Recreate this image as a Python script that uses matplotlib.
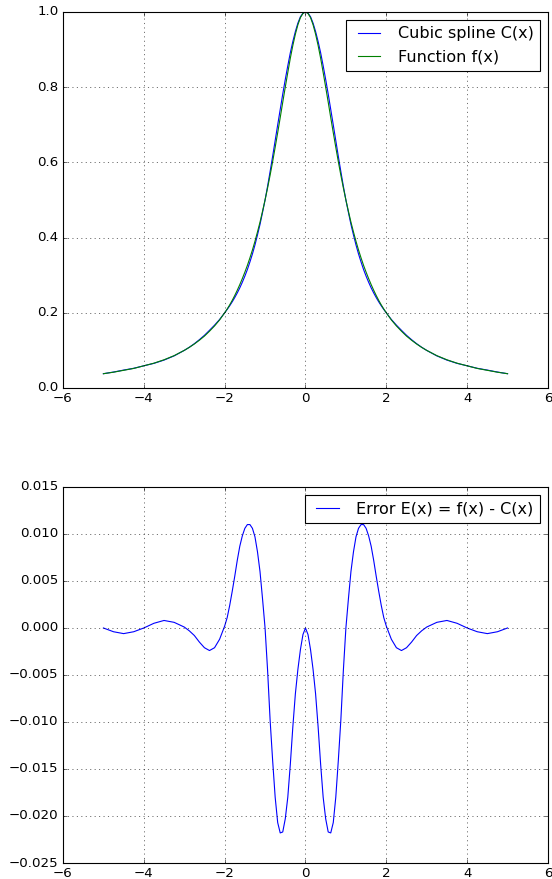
import matplotlib
matplotlib.use("Agg")
import matplotlib.pyplot as plt

# sample points (x on [-5, 5])
x = [-5, -4.75, -4.5, -4.25, -4, -3.75, -3.5, -3.25, -3,
     -2.875, -2.75, -2.625, -2.5, -2.375, -2.25, -2.125,
     -2, -1.9375, -1.875, -1.8125, -1.75, -1.6875, -1.625, -1.5625,
     -1.5, -1.4375, -1.375, -1.3125, -1.25, -1.1875, -1.125, -1.0625,
     -1, -0.9375, -0.875, -0.8125, -0.75, -0.6875, -0.625, -0.5625,
     -0.5, -0.4375, -0.375, -0.3125, -0.25, -0.1875, -0.125, -0.0625, 0,
     0.0625, 0.125, 0.1875, 0.25, 0.3125, 0.375, 0.4375, 0.5,
     0.5625, 0.625, 0.6875, 0.75, 0.8125, 0.875, 0.9375, 1,
     1.0625, 1.125, 1.1875, 1.25, 1.3125, 1.375, 1.4375, 1.5,
     1.5625, 1.625, 1.6875, 1.75, 1.8125, 1.875, 1.9375, 2,
     2.125, 2.25, 2.375, 2.5, 2.625, 2.75, 2.875, 3,
     3.25, 3.5, 3.75, 4, 4.25, 4.5, 4.75, 5]

# function f(x)
f_vals = [0.038, 0.042, 0.047, 0.052, 0.059, 0.066, 0.075, 0.086, 0.100,
          0.108, 0.117, 0.127, 0.138, 0.151, 0.165, 0.181,
          0.200, 0.210, 0.221, 0.233, 0.246, 0.260, 0.275, 0.291,
          0.308, 0.326, 0.346, 0.367, 0.390, 0.415, 0.441, 0.470,
          0.500, 0.532, 0.566, 0.602, 0.640, 0.679, 0.719, 0.760,
          0.800, 0.839, 0.877, 0.911, 0.941, 0.966, 0.985, 0.996, 1.000,
          0.996, 0.985, 0.966, 0.941, 0.911, 0.877, 0.839, 0.800,
          0.760, 0.719, 0.679, 0.640, 0.602, 0.566, 0.532, 0.500,
          0.470, 0.441, 0.415, 0.390, 0.367, 0.346, 0.326, 0.308,
          0.291, 0.275, 0.260, 0.246, 0.233, 0.221, 0.210, 0.200,
          0.181, 0.165, 0.151, 0.138, 0.127, 0.117, 0.108, 0.100,
          0.086, 0.075, 0.066, 0.059, 0.052, 0.047, 0.042, 0.038]

# cubic spline C(x)
c_vals = [0.0380, 0.0424, 0.0476, 0.0524, 0.0590, 0.0655, 0.0742, 0.0854, 0.0999,
          0.1083, 0.1178, 0.1285, 0.1401, 0.1534, 0.1671, 0.1822,
          0.1998, 0.2089, 0.2186, 0.2291, 0.2405, 0.2528, 0.2663, 0.2812,
          0.2974, 0.3150, 0.3350, 0.3564, 0.3803, 0.4069, 0.4350, 0.4669,
          0.5000, 0.5365, 0.5758, 0.6161, 0.6580, 0.6997, 0.7408, 0.7817,
          0.8203, 0.8570, 0.8915, 0.9215, 0.9480, 0.9704, 0.9873, 0.9967, 1.0000,
          0.9967, 0.9873, 0.9704, 0.9480, 0.9215, 0.8915, 0.8570, 0.8203,
          0.7817, 0.7408, 0.6997, 0.6580, 0.6161, 0.5758, 0.5365, 0.5000,
          0.4669, 0.4350, 0.4069, 0.3803, 0.3564, 0.3350, 0.3150, 0.2974,
          0.2812, 0.2663, 0.2528, 0.2405, 0.2291, 0.2186, 0.2089, 0.1998,
          0.1822, 0.1671, 0.1534, 0.1401, 0.1285, 0.1178, 0.1083, 0.0999,
          0.0854, 0.0742, 0.0655, 0.0590, 0.0524, 0.0476, 0.0424, 0.0380]

# error E(x) = f(x) - C(x)
err_vals = [0.0, -0.0004, -0.0006, -0.0004, 0.0, 0.0005, 0.0008, 0.0006, 0.0001,
            -0.0003, -0.0008, -0.0015, -0.0021, -0.0024, -0.0021, -0.0012,
            0.0002, 0.0011, 0.0024, 0.0039, 0.0055, 0.0072, 0.0087, 0.0098,
            0.0106, 0.0110, 0.0110, 0.0106, 0.0097, 0.0081, 0.0060, 0.0031,
            0.0, -0.0045, -0.0098, -0.0141, -0.0180, -0.0207, -0.0218, -0.0217,
            -0.0203, -0.0180, -0.0145, -0.0105, -0.0070, -0.0044, -0.0023, -0.0007, 0.0,
            -0.0007, -0.0023, -0.0044, -0.0070, -0.0105, -0.0145, -0.0180, -0.0203,
            -0.0217, -0.0218, -0.0207, -0.0180, -0.0141, -0.0098, -0.0045, 0.0,
            0.0031, 0.0060, 0.0081, 0.0097, 0.0106, 0.0110, 0.0110, 0.0106,
            0.0098, 0.0087, 0.0072, 0.0055, 0.0039, 0.0024, 0.0011, 0.0002,
            -0.0012, -0.0021, -0.0024, -0.0021, -0.0015, -0.0008, -0.0003, 0.0001,
            0.0006, 0.0008, 0.0005, 0.0, -0.0004, -0.0006, -0.0004, 0.0]

plt.style.use('classic')
plt.rcParams['figure.facecolor'] = 'white'

fig = plt.figure(figsize=(6.9, 10.9875), dpi=80)

# top panel: spline vs function
ax1 = fig.add_axes([0.1141, 0.5586, 0.8786, 0.4278])
ax1.plot(x, c_vals, 'b-', label='Cubic spline C(x)')
ax1.plot(x, f_vals, 'g-', label='Function f(x)')
ax1.set_xlim(-6, 6)
ax1.set_ylim(0.0, 1.0)
ax1.grid(True)
ax1.legend(loc='upper right')

# bottom panel: error
ax2 = fig.add_axes([0.1141, 0.0182, 0.8786, 0.4278])
ax2.plot(x, err_vals, 'b-', label='Error E(x) = f(x) - C(x)')
ax2.set_xlim(-6, 6)
ax2.set_ylim(-0.025, 0.015)
ax2.grid(True)
ax2.legend(loc='upper right')

fig.savefig('out.png', dpi=80)
